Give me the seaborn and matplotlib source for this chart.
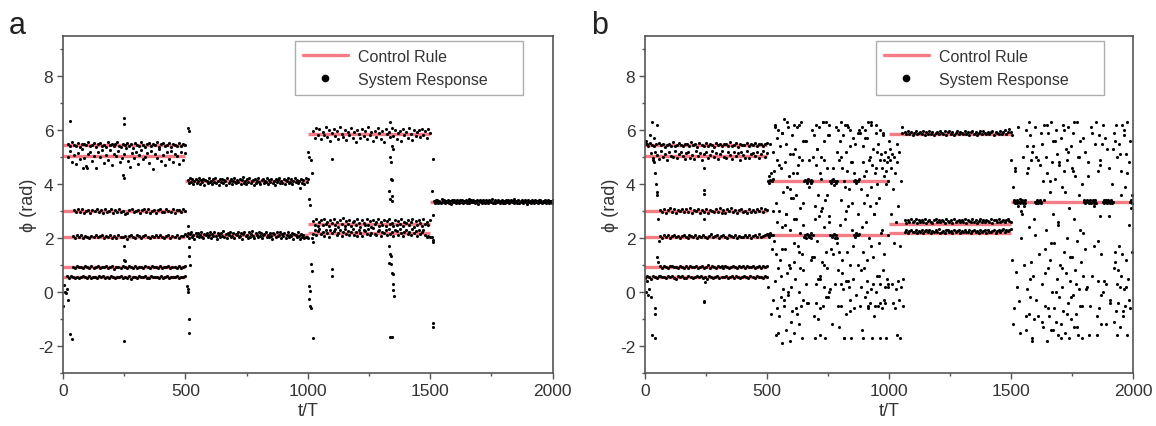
import numpy as np
import pandas as pd
import matplotlib
matplotlib.use("Agg")
import matplotlib.pyplot as plt
import seaborn as sns
from matplotlib.lines import Line2D
from matplotlib.ticker import MultipleLocator

# control rule: piecewise constant target phases
seg_starts = [0, 500, 1000, 1500]
seg_ends = [500, 1000, 1500, 2000]
seg_levels = [[5.45, 5.05, 3.0, 2.05, 0.92, 0.55], [4.1, 2.1], [5.85, 2.53, 2.2], [3.35]]

# ---- panel a: system response, deviations from band centre (x0.01 rad)
a1_545 = [4,-6,9,1,-3,7,-8,2,5,-2,11,-5,0,6,-9,3,8,-4,1,-7,10,-1,4,-6,2,12,-3,-8,5,0,7,-5,3,-10,6,1,-4,9,-2,-7,4,8,-6,2,-1,10,-8,3,6,-4,0,7,-9,5,1,-3,8,-6,4,-2]
a1_505 = [-5,18,-22,4,-30,10,-12,25,-8,-38,6,15,-20,0,-45,12,-6,22,-28,3,-15,20,-35,8,-3,16,-25,-10,5,28,-18,-42,9,-7,14,-32,2,21,-14,-4,11,-26,17,-50,7,-9,24,-19,1,-36,13,-11,19,-23,6,-2,-30,15,-16,10]
a1_300 = [3,-5,6,-2,8,-7,1,4,-9,5,-1,7,-4,2,-6,9,-3,0,6,-8,4,-2,7,-5,1,-11,-6,3,8,-4,-1,5,-7,2,6,-3,9,-6,0,4,-8,3,7,-2,-5,6,1,-4,8,-7,2,5,-3,7,-1]
a1_205 = [2,-4,5,-1,6,-5,3,0,-6,4,-2,7,-3,1,5,-6,2,-1,8,-4,3,-5,6,0,-3,4,-7,2,5,-2,-4,6,1,-5,3,7,-2,-6,4,0,5,-3,8,-1,-5,3,6,-4,2,-2,7,-6,4,1,9]
a1_092 = [1,-3,4,-1,2,-4,3,0,-2,5,-3,1,3,-4,2,-1,4,-2,0,3,-5,2,1,-3,4,-1,-2,3,0,-4,5,-2,1,2,-3,4,-1,-4,3,0,2,-3,5,-2,1,-1,3,-4,2,0,-2,4,-3,1,3]
a1_055 = [3,-2,4,0,-3,2,-4,1,3,-1,-3,5,-2,0,2,-4,3,-1,4,-3,1,-2,5,-1,-4,2,0,3,-3,1,-2,4,-5,2,1,-3,3,-1,0,4,-2,-4,3,1,-1,2,-3,5,-2,0,3,-4,1,2,-1,4,-3,0,2,6]
a2_410 = [5,-8,12,-3,7,-11,2,9,-6,0,14,-9,4,-2,10,-13,6,1,-7,11,-4,3,-10,8,-1,13,-6,2,-12,7,-3,9,-8,5,0,-14,11,-5,3,8,-9,1,12,-4,-7,6,-2,10,-11,4,15,-6,2,-9,7,-3,11,-8,0,6,-12,9,-5,3,13,-2,-10,5,8,-7,1,-4,12,-9,6,-1,10,-6,3,-13,8,-3,5,11,-8,2,-5,9,-11,4,0,14,-7,-2,7,-10,3,12,-4,6,-8,1,-25,9,-5,4,-9,11,-3,7]
a2_210 = [-3,8,-10,4,12,-6,1,-12,7,-2,10,-8,3,14,-5,-11,6,0,9,-7,2,13,-9,5,-4,11,-1,-13,8,3,-6,10,-2,15,-8,4,-10,7,0,12,-5,-3,9,-11,6,1,14,-7,-1,8,-12,4,11,-4,2,-9,13,-6,5,16,-2,-10,7,3,-7,12,-3,9,-11,0,6,14,-5,2,-8,10,-1,-13,7,4,-6,11,-4,1,13,-9,5,-2,8,-10,3,12,-7,0,-4,9,-12,6,2,-8,11,-3,-14,5,-6,3,-9,-5,-7,-10]
a3_585 = [10,-15,22,-5,18,-20,8,-2,25,-12,14,-25,5,20,-8,12,-18,28,0,-10,16,-22,6,-4,24,-14,9,-28,15,2,-16,20,-6,11,-20,27,-3,8,-24,13,-9,21,4,-17,10,-30,18,-1,7,-12,23,-7,15,-19,3,12,-26,19,-4,9,-13,24,1,-21,14,-8,6,16,-11,20,-5,10,-15,18,3]
a3_255 = [8,-5,14,-10,3,12,-8,16,-3,6,-12,10,0,15,-7,4,-14,11,-2,18,-9,7,-4,13,-11,5,9,-6,17,-1,-13,10,2,-8,14,-5,8,-15,12,-2,6,16,-10,3,-6,11,-12,7,15,-4,1,-9,13,-7,9,-3,17,-11,5,-1,12,-8,4,14,-13,8,-5,10,0,-10,15,-3,6,-6,11]
a3_220 = [-4,10,-9,5,13,-6,2,-12,8,0,-15,11,-3,6,14,-8,-1,9,-13,4,12,-5,7,-10,1,15,-7,3,-11,10,-2,-14,8,5,-6,12,-9,0,16,-4,-8,7,11,-12,3,-1,9,-10,14,-5,2,-13,8,6,-7,13,-2,-11,4,10,-6,1,-9,12,-3,7,-14,9,-5,3,11,-8,-15,-12,-18]
a4_335 = [2,-5,6,-1,4,-7,3,0,-4,8,-3,1,5,-6,2,-2,7,-4,0,3,-8,5,-1,6,-3,1,-6,4,2,-5,7,-2,0,5,-7,3,-1,6,-4,2,8,-5,-1,4,-3,6,0,-6,3,-2,5,-8,1,7,-3,2,-5,4,0,-4,6,-1,3,-7,5,1,-2,8,-4,0,4,-6,2,-3,6,1,-5,3,-1,7,-4,2,-6,5,0,-2,4,-7,3,6,-3,1,-5,8,-1,2,-4,5,-6,0,3,-2,7,-5,1,4,-3,2,-8,6,-1,3,-4,5,0,-6,2,7,-3,1,-5,4,-2,6,-1,-4,3,0,5,-7,2,-2,6,-4,1,3,-6,4]

# panel a: stray points during switching (t/T, phi)
a_out_t = [0,5,8,12,16,20,28,28,35,82,98,249,250,247,249,251,249,253,250,512,515,510,514,516,518,508,510,512,516,514,
           1002,1006,1012,1016,1004,1008,1018,1020,1014,1018,1004,1008,1006,1010,1012,1020,1097,1097,1099,
           1335,1345,1348,1336,1338,1340,1346,1330,1342,1336,1344,1333,1337,1341,1333,1339,1344,1350,1349,1349,1351,1336,1342,
           1510,1508,1512,1506,1510,1511,1510,1512]
a_out_y = [-0.5,0.25,0.0,-0.05,0.1,-0.28,6.33,-1.55,-1.74,4.58,4.58,6.44,6.23,4.33,4.22,1.72,1.2,1.15,-1.8,6.06,5.98,2.46,1.65,1.34,1.0,0.23,0.11,0.02,-1.0,-1.5,
           5.17,4.99,4.89,4.41,3.44,3.22,1.99,1.84,1.04,0.79,0.23,0.05,-0.26,-0.5,-0.6,-1.7,4.91,0.85,0.6,
           6.31,5.42,5.3,4.99,4.8,4.19,4.14,3.75,3.57,3.44,3.38,1.72,1.41,1.35,1.07,1.05,0.7,0.68,0.3,0.09,-0.15,-1.65,-1.65,
           4.93,3.75,2.85,2.04,1.94,1.84,-1.15,-1.3]

# ---- panel b
b1_545 = [2,-4,6,0,-6,3,8,-2,5,-7,1,4,-3,9,-5,0,7,-1,-6,3,5,-4,10,-2,2,-8,6,1,-3,7,-5,4,0,-7,8,-1,3,-6,5,2,-4,9,-3,0,6,-8,4,1,-2,7,-5,3,-1,8,-6,2,5,-3,4,6]
b1_505 = [10,-8,14,2,-12,16,-4,8,-15,12,0,-6,18,-10,5,13,-3,-14,9,15,-7,3,-11,17,-2,11,-16,6,14,-9,1,16,-5,10,-13,8,19,-4,-8,12,4,-12,15,-1,9,-15,13,2,-7,17,-10,7,11,-3,14,-9,5,16,-6,10]
b1_300 = [5,-3,8,-6,2,10,-4,7,-8,3,-1,9,-5,6,-2,11,-7,4,0,8,-6,3,-3,9,-9,5,1,-4,7,-2,10,-6,2,-8,6,-1,12,-4,5,-7,3,8,-3,1,-6,9,-2,4,-5,7,0,11,-4,6,3]
b1_205 = [3,-4,6,-2,5,-5,2,7,-3,1,-6,4,8,-1,-4,5,2,-3,7,-5,3,0,6,-2,-5,4,9,-3,1,5,-6,3,7,-1,-4,6,2,-2,8,-5,4,0,-3,7,-1,5,-4,2,6,-2,9,-3,4,8,10]
b1_092 = [4,-2,5,0,-3,3,6,-1,2,-4,5,1,-2,4,-3,6,0,-1,3,-4,2,5,-2,1,7,-3,4,0,-2,5,-1,3,-4,6,1,-3,2,4,-1,-2,5,0,3,-3,4,2,-1,6,-2,1,3,-3,5,0,4]
b1_055 = [-2,4,0,-5,3,1,-3,5,-1,2,-4,3,0,4,-2,-6,3,1,5,-3,-2,4,0,-4,2,6,-1,3,-3,1,-5,4,2,-2,0,5,-3,2,-1,4,-4,1,3,-2,5,0,-3,2,4,-1,-4,3,1,-2,6,0,2,-3,4,1]
b2_hi = [4.1,4.05,4.3,4.15,4.4,4.1,4.2,
         5.2,4.5,6.2,3.3,5.7,4.9,6.0,3.0,5.4,4.6,1.6,5.9,3.7,6.4,4.8,2.9,5.5,3.9,6.1,4.3,0.9,5.1,3.5,5.8,4.4,6.2,2.7,5.3,3.6,6.1,4.7,1.5,5.0,3.1,6.3,4.9,5.6,2.5,
         4.1,4.15,5.6,4.05,4.1,4.2,3.9,4.1,4.15,4.05,4.1,5.0,
         5.8,3.2,6.2,4.7,5.3,3.6,6.1,4.4,0.5,5.0,3.1,6.3,4.9,5.6,3.4,6.3,4.6,5.8,2.8,6.2,
         4.1,4.05,4.15,4.1,4.2,3.95,4.1,4.05,5.2,4.1,
         6.0,4.9,5.6,3.4,6.3,4.6,5.8,4.1,6.2,3.0,5.2,4.5,6.1,3.8,5.4,6.0,4.8,3.3,5.7,4.4,
         4.1,4.15,4.05,4.1,5.9,4.1,4.2,
         5.9,3.8,6.1,4.8,5.4,3.3,6.0,4.5,5.7,3.6,6.3,4.9,5.0,3.9,6.2,4.7,5.3,2.9,4.4,5.9,6.2,4.0,5.5,3.5,4.9,6.0,5.1,4.6,5.8,4.3,4.9,5.2,4.5,4.8,5.0,4.1]
b2_lo = [2.1,2.15,2.05,2.2,2.1,1.6,2.1,
         -0.3,1.9,0.4,-1.6,2.6,-0.6,0.9,-0.9,1.2,-0.2,2.4,-1.9,0.1,-0.5,1.6,2.9,-1.4,0.7,-0.1,1.0,-1.8,2.3,0.2,-0.7,3.5,1.1,-1.5,0.5,2.7,-0.8,1.7,-1.2,0.0,2.2,-0.5,1.4,-0.3,0.8,
         2.05,2.1,2.0,2.15,-0.4,2.1,2.05,2.1,2.2,2.0,1.3,2.1,
         1.3,-1.7,0.3,-0.4,1.9,-1.0,2.8,0.6,-0.6,3.0,1.1,-0.5,0.2,2.4,-1.7,1.5,0.9,-0.2,2.6,0.0,
         2.1,1.6,2.05,1.4,2.1,2.15,0.3,2.1,2.0,1.8,
         0.8,-1.3,2.5,0.3,-0.5,1.2,0.1,-1.7,2.7,0.4,-0.8,1.5,3.2,0.2,-0.3,1.0,-1.7,2.3,0.5,-0.6,
         2.1,2.05,2.2,2.1,1.0,2.1,2.15,
         -0.5,0.2,2.4,-1.7,1.5,0.9,-0.2,2.6,0.4,1.2,-0.6,2.0,-0.4,0.1,1.7,-1.7,0.3,2.9,-0.5,0.0,3.3,0.6,-0.5,1.8,-0.4,0.3,2.2,-0.6,0.8,-0.3,1.4,0.2,-1.7,0.5,2.1,0.3]
b2_extra = [0.2,5.5,-0.8,3.0,6.1,1.4,-1.5,4.7,0.6,5.9,-0.3,2.5,6.3,0.0,3.8,-1.1,5.1,1.8,-0.6,4.4,6.2,0.9,-1.7,3.3,5.6,0.3,-0.4,4.9,1.2,6.0,
            -0.9,2.7,5.3,0.5,-1.6,4.2,6.3,1.0,-0.2,3.6,5.8,0.1,-1.2,4.6,2.0,6.1,-0.5,1.5,5.0,0.7,-1.7,3.9,6.2,0.4,-0.7,4.8,1.7,5.5,-0.1,2.9,
            6.0,0.8,-1.4,4.3,5.7,0.0,-0.5,3.2,6.3,1.3,-0.9,4.6,5.2,0.6,-1.7,2.3,5.9,-0.4,4.0,0.2]
b3_trans = [5.6,4.9,5.3,2.9,4.6,0.3,5.1,-0.4,3.8,1.8,5.0,-0.6,4.4,0.1,2.6,-1.6,5.5,4.8,0.4,3.2,-0.3,5.2,1.7,-1.7,4.1,0.2,6.1,5.9,0.5,-0.5]
b3_585 = [4,-3,7,-1,5,-6,2,9,-4,0,6,-2,8,-5,3,-1,10,-3,5,-7,1,6,-4,8,0,-2,7,-5,3,9,-1,4,-6,2,7,-3,5,1,-4,8,-2,6,-5,3,10,-1,4,-6,2,7,-3,9,0,-4,6,-2,3,8,-5,5,1,-3,7,-1,4,12,-2,6,15,3]
b3_260 = [3,-5,6,-2,7,-4,1,8,-6,3,-1,5,-3,9,-5,2,6,-2,-7,4,8,-1,3,-4,6,0,-6,7,2,-3,5,-5,9,-2,1,6,-4,3,-1,8,-6,4,0,-3,7,-2,5,-5,2,9,-1,4,-4,6,1,-3,8,-6,3,5,-2,7,-4,0,6,-1,4,10,2,-3]
b3_222 = [-2,4,-5,2,6,-3,0,5,-6,3,-1,7,-4,1,4,-2,6,-5,2,-1,5,-3,8,-4,0,3,-6,4,6,-2,1,-4,5,-1,3,7,-5,2,-3,6,0,-2,4,-6,3,5,-1,2,-4,7,-3,1,4,-5,6,-2,0,3,5,-4,2,6,-1,4,8,-3,5,2,7,9]
b4 = [4.9,1.2,3.9,-1.2,
      3.35,3.4,4.5,3.3,3.35,0.75,3.4,3.3,3.2,3.35,-0.35,3.45,3.3,2.0,3.35,3.4,2.9,3.3,3.35,3.2,3.4,3.3,
      6.0,-1.4,5.4,0.1,4.6,-0.8,2.4,5.8,-0.2,1.1,4.9,-1.7,5.2,0.6,2.7,-1.0,6.1,
      3.35,3.3,5.0,3.4,3.35,-0.9,3.3,3.35,4.7,3.4,3.3,3.35,
      5.5,0.3,-1.3,4.1,6.2,1.6,-0.5,5.0,2.3,-1.8,4.4,0.9,5.9,-0.9,3.7,1.2,6.3,-1.4,4.8,0.0,2.9,5.6,-0.6,1.8,4.2,-1.1,6.0,0.5,5.1,-1.6,2.5,4.7,-0.2,1.0,5.7,-1.2,3.9,0.2,6.2,-0.7,4.5,1.5,-1.5,5.3,0.7,2.0,4.9,-0.4,6.1,-1.7,3.1,0.4,5.4,-1.0,1.3,4.6,-0.1,5.9,-1.3,2.7,0.8,4.3,-0.8,6.3,1.9,-1.6,5.0,0.1,3.6,-0.5,5.6,1.1,-1.7,4.0,0.6,2.2,
      3.35,3.4,5.2,3.3,3.35,0.2,3.4,3.35,4.8,3.3,3.35,-0.5,3.4,3.3,3.35,5.9,3.35,3.4,1.7,3.3,3.35,3.4,3.3,
      6.3,-1.6,4.5,0.4,5.8,-0.6,2.8,4.9,-1.2,1.4,5.5,0.0,
      3.35,3.4,3.3,5.7,3.35,3.4,0.3,3.3,3.35,3.4,4.6,3.35,3.3,-0.3,3.4,3.35,3.3,5.3,3.35,
      0.9,-1.1,5.6,1.5,6.2,-0.7,0.3,5.0,-0.4,1.7,5.5,0.2,-1.3,4.5,0.6,6.2,1.4,-0.9,5.8,0.1,3.9,-0.5,5.1,1.2,-1.6,6.3,0.5,4.8,2.5,-0.6,
      3.35,3.1,3.4,3.6,3.3]
b4_extra = [5.8,-0.6,4.6,0.2,6.1,-1.5,3.0,5.0,1.0,-0.9,4.4,6.3,0.5,-1.8,5.4,2.1,-0.3,4.9,1.4,5.9,-1.1,3.4,0.7,6.2,-0.6,4.1,1.8,-1.4,5.6,0.0,
            2.6,4.8,-1.7,0.9,6.0,3.7,-0.8,5.2,1.3,-0.2,4.5,6.3,0.3,-1.3,5.0,2.3,-0.5,5.7,1.6,0.1,4.3,-1.6,6.1,0.6,3.2,5.5,-0.9,1.9,4.7,-0.1,
            6.2,0.4,-1.2,5.3,2.8,-0.4,4.0,5.9,1.1,-1.6,0.8,5.1,3.6,-0.7,6.0,0.2,4.4,-0.3,5.6,1.5]
b_out_t = [2,6,22,30,38,50,33,36,41,44,47,50,54,58,50,53,57,6,3,14,18,24,40,42,30,40,240,242,243,242,244,242,243]
b_out_y = [5.6,5.5,5.8,6.3,5.7,6.2,4.9,4.8,4.4,4.0,3.7,3.6,2.7,1.9,1.3,1.1,0.6,0.4,0.0,-0.1,0.1,-0.2,-0.6,-0.8,-1.6,-1.7,4.6,3.79,3.63,2.7,0.37,-0.32,-0.38]


def band(t0, t1, centre, values, scale=0.01):
    y = centre + np.asarray(values, dtype=float) * scale
    return pd.DataFrame({"t": np.linspace(t0, t1, len(y)), "phi": y})


panel_a = pd.concat([
    band(20, 498, 5.45, a1_545), band(22, 498, 5.05, a1_505), band(45, 498, 3.0, a1_300),
    band(40, 498, 2.05, a1_205), band(40, 498, 0.92, a1_092), band(15, 498, 0.55, a1_055),
    band(510, 1000, 4.1, a2_410), band(505, 1000, 2.1, a2_210),
    band(1022, 1498, 5.85, a3_585), band(1022, 1498, 2.55, a3_255), band(1022, 1498, 2.2, a3_220),
    band(1515, 2000, 3.35, a4_335),
    pd.DataFrame({"t": a_out_t, "phi": a_out_y}),
])
panel_b = pd.concat([
    band(5, 500, 5.45, b1_545), band(25, 500, 5.05, b1_505), band(62, 500, 3.0, b1_300),
    band(60, 500, 2.05, b1_205), band(62, 500, 0.92, b1_092), band(0, 500, 0.55, b1_055),
    band(503, 998, 0, b2_hi, 1), band(503, 998, 0, b2_lo, 1), band(506, 995, 0, b2_extra, 1),
    band(1002, 1058, 0, b3_trans, 1),
    band(1065, 1500, 5.88, b3_585), band(1065, 1500, 2.62, b3_260), band(1065, 1500, 2.24, b3_222),
    band(1502, 1998, 0, b4, 1), band(1505, 1995, 0, b4_extra, 1),
    pd.DataFrame({"t": b_out_t, "phi": b_out_y}),
])

sns.set_style("ticks")
plt.rcParams["font.family"] = ["Liberation Sans", "DejaVu Sans"]
plt.rcParams["axes.unicode_minus"] = False
red = "#f47c86"
axis_col = "#555555"
text_col = "#333333"

fig = plt.figure(figsize=(11.56, 4.27), dpi=100)
ax_a = fig.add_axes([0.0545, 0.124, 0.4235, 0.7905])
ax_b = fig.add_axes([0.558, 0.124, 0.422, 0.7905])

for ax, data, letter in [(ax_a, panel_a, "a"), (ax_b, panel_b, "b")]:
    for t0, t1, levels in zip(seg_starts, seg_ends, seg_levels):
        ax.hlines(levels, t0, t1, colors=red, linewidth=2.4, zorder=1)
    sns.scatterplot(data=data, x="t", y="phi", ax=ax, color="black", s=5,
                    linewidth=0, zorder=2, legend=False)
    ax.set_xlim(0, 2000)
    ax.set_ylim(-3, 9.5)
    ax.xaxis.set_major_locator(MultipleLocator(500))
    ax.xaxis.set_minor_locator(MultipleLocator(250))
    ax.yaxis.set_major_locator(MultipleLocator(2))
    ax.yaxis.set_minor_locator(MultipleLocator(1))
    ax.tick_params(which="major", direction="out", length=4, width=1, color=axis_col,
                   labelsize=12.5, labelcolor=text_col, pad=3)
    ax.tick_params(which="minor", direction="out", length=2.5, width=1, color=axis_col)
    for sp in ax.spines.values():
        sp.set_color(axis_col)
        sp.set_linewidth(1.2)
    ax.set_xlabel("t/T", fontsize=13, color=text_col, labelpad=3)
    ax.set_ylabel("ϕ (rad)", fontsize=13, color=text_col, labelpad=1)

    handles = [Line2D([], [], color=red, lw=2.4),
               Line2D([], [], color="black", marker="o", ls="", markersize=4.5)]
    leg = ax.legend(handles, ["Control Rule", "System Response      "], loc="upper left",
                    bbox_to_anchor=(0.4735, 0.985), borderaxespad=0, fontsize=11.5,
                    frameon=True, fancybox=False, edgecolor="#999999",
                    handlelength=2.8, handletextpad=0.65, borderpad=0.5,
                    labelspacing=0.5, labelcolor=text_col)
    leg.get_frame().set_linewidth(1.0)
    pos = ax.get_position()
    fig.text(pos.x0 - 0.047, 0.975, letter, fontsize=22, color="#222222", va="top", ha="left")

fig.savefig("out.png", dpi=100)
